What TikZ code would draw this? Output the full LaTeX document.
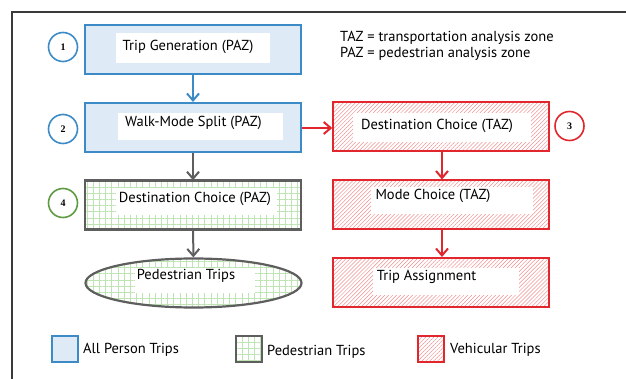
\documentclass[tikz,border=0pt]{standalone}
\usepackage{fontspec}
\setmainfont{PT Sans}
\newfontfamily\numfont{Liberation Serif}
\usetikzlibrary{arrows.meta,patterns.meta,shapes.geometric}
\definecolor{cblue}{HTML}{3D8BC6}
\definecolor{cbluefill}{HTML}{DEEAF5}
\definecolor{cred}{HTML}{E2262D}
\definecolor{chatch}{HTML}{F09090}
\definecolor{cgray}{HTML}{5E5E5E}
\definecolor{cgreen}{HTML}{5E9B40}
\definecolor{cgrid}{HTML}{BDE4B2}
\definecolor{cframe}{HTML}{3A3A3A}
\tikzset{
  x=1pt, y=-1pt,
  boxbase/.style={rectangle, inner sep=0pt, minimum width=216pt, minimum height=49pt},
  allbox/.style={boxbase, draw=cblue, fill=cbluefill, line width=2pt},
  pedfill/.style={pattern={Hatch[angle=0,distance=6.2pt,line width=0.55pt]}, pattern color=cgrid},
  vehfill/.style={pattern={Lines[angle=45,distance=2.8pt,line width=0.5pt]}, pattern color=chatch},
  pedbox/.style={boxbase, draw=cgray, line width=2.2pt, pedfill},
  vehbox/.style={boxbase, draw=cred, line width=2pt, vehfill},
  whitebox/.style={rectangle, fill=white, inner sep=0pt},
  lbl/.style={inner sep=0pt, font=\fontsize{14.5}{17}\selectfont},
  numc/.style={circle, draw, line width=1.6pt, fill=white, minimum size=29pt, inner sep=0pt, font=\numfont\bfseries\fontsize{10}{11}\selectfont},
  arr/.style={-{Straight Barb[length=7pt,width=12pt]}, line width=2pt},
  legbox/.style={rectangle, inner sep=0pt, minimum width=26pt, minimum height=26pt, line width=2pt},
}
\begin{document}
\begin{tikzpicture}
\useasboundingbox (0,0) rectangle (626,379);
% frame
\coordinate (fa) at (12,379);
\coordinate (fb) at (12,12);
\coordinate (fc) at (626,12);
\draw[cframe, line width=1.4pt] (fa) -- (fb) -- (fc);

% left column
\node[allbox] (b1) at (193,49.5) {};
\node[whitebox, minimum width=154pt, minimum height=30pt] (b1w) at (193,48) {};
\node[lbl] (b1t) at (188,47) {Trip Generation (PAZ)};

\node[allbox] (b2) at (193,127.5) {};
\node[whitebox, minimum width=165pt, minimum height=27pt] (b2w) at (200.5,126.5) {};
\node[lbl] (b2t) at (193.5,123) {Walk-Mode Split (PAZ)};

\node[pedbox] (b4) at (193,205) {};
\node[whitebox, minimum width=161pt, minimum height=27pt] (b4w) at (196.5,201.5) {};
\node[lbl] (b4t) at (195,199) {Destination Choice (PAZ)};

\node[ellipse, draw=cgray, line width=2.2pt, pedfill, minimum width=216pt, minimum height=49pt, inner sep=0pt] (e) at (193.5,283) {};
\node[whitebox, minimum width=120pt, minimum height=25pt] (ew) at (195,280.5) {};
\node[lbl] (et) at (186,276) {Pedestrian Trips};

% right column
\node[vehbox] (b3) at (440.5,127) {};
\node[whitebox, minimum width=178pt, minimum height=29pt] (b3w) at (442,127.5) {};
\node[lbl] (b3t) at (437,126) {Destination Choice (TAZ)};

\node[vehbox] (b5) at (440.5,205) {};
\node[whitebox, minimum width=162pt, minimum height=27pt] (b5w) at (452,200.5) {};
\node[lbl] (b5t) at (433,196) {Mode Choice (TAZ)};

\node[vehbox] (b6) at (441,282.5) {};
\node[whitebox, minimum width=146pt, minimum height=27pt] (b6w) at (446,281.5) {};
\node[lbl] (b6t) at (426.5,277) {Trip Assignment};

% circles
\node[numc, draw=cblue] (c1) at (63,47) {1};
\node[numc, draw=cblue] (c2) at (63,129) {2};
\node[numc, draw=cred] (c3) at (569.5,126) {3};
\node[numc, draw=cgreen] (c4) at (63,203) {4};

% arrows
\draw[arr, cblue] (b1) -- (b2);
\draw[arr, cgray] (b2) -- (b4);
\draw[arr, cgray] (b4) -- (e);
\draw[arr, cred] (b2.east |- 0,128) -- (b3.west |- 0,128);
\draw[arr, cred] ([xshift=1.5pt]b3.south) -- ([xshift=1.5pt]b5.north);
\draw[arr, cred] ([xshift=1.5pt]b5.south) -- ([xshift=1pt]b6.north);

% definitions
\node[lbl, anchor=west] (d1) at (340,38) {TAZ = transportation analysis zone};
\node[lbl, anchor=west] (d2) at (340,54) {PAZ = pedestrian analysis zone};

% legend
\node[legbox, draw=cblue, fill=cbluefill] (l1) at (65,349) {};
\node[lbl, anchor=west] (l1t) at (83,350) {All Person Trips};
\node[legbox, draw=cgray, pedfill] (l2) at (248.5,349) {};
\node[lbl, anchor=west] (l2t) at (267,352) {Pedestrian Trips};
\node[legbox, draw=cred, vehfill] (l3) at (431,349) {};
\node[lbl, anchor=west] (l3t) at (450,350) {Vehicular Trips};
\end{tikzpicture}
\end{document}
